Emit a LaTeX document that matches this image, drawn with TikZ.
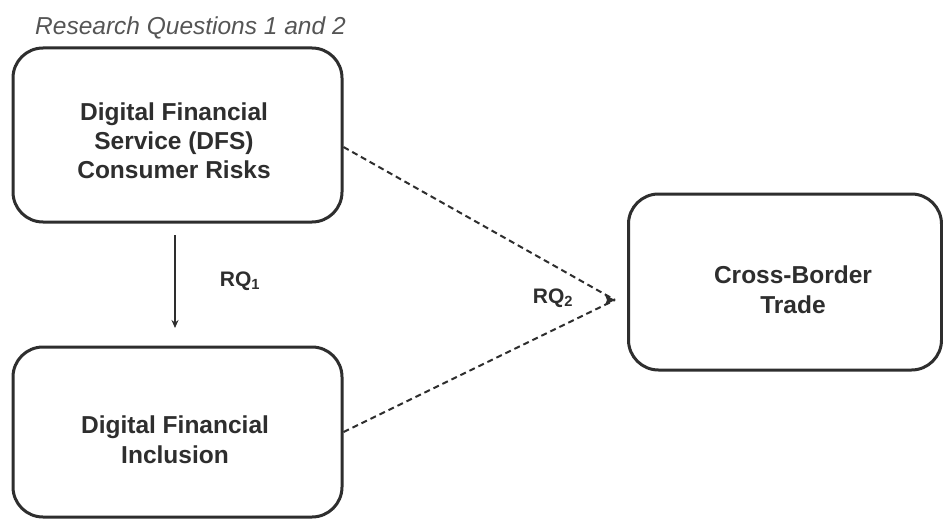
\documentclass[tikz,border=0pt]{standalone}
\usepackage{fontspec}
\setmainfont{Liberation Sans}
\usetikzlibrary{arrows.meta}
\definecolor{ink}{HTML}{2E2E2E}
\definecolor{titlegray}{HTML}{555555}
\begin{document}
\begin{tikzpicture}[x=1pt,y=-1pt,
  box/.style={draw=ink,line width=3pt,rounded corners=30pt,align=center,text=ink,
    font=\bfseries\fontsize{24.5}{29}\selectfont,inner sep=0pt},
  lbl/.style={text=ink,font=\bfseries\fontsize{21}{24}\selectfont,inner sep=0pt},
  dashline/.style={draw=ink,line width=2pt,dash pattern=on 6pt off 4pt},
  solidarrow/.style={draw=ink,line width=2pt,-{Stealth[length=8pt,width=7pt]}}
]
\useasboundingbox (0,0) rectangle (943,519);
\fill[white] (0,0) rectangle (943,519);
\node[anchor=west,text=titlegray,font=\itshape\fontsize{24.5}{28}\selectfont,inner sep=0pt] (title) at (35,28) {Research Questions 1 and 2};
\node[box,minimum width=329pt,minimum height=174pt] (dfs) at (177.5,135) {};
\node[text=ink,font=\bfseries\fontsize{24.5}{29}\selectfont,align=center,inner sep=0pt] (dfst) at (174,141) {Digital Financial\\Service (DFS)\\Consumer Risks};
\node[box,minimum width=329pt,minimum height=170pt] (dfi) at (177.5,432) {};
\node[text=ink,font=\bfseries\fontsize{24.5}{30}\selectfont,align=center,inner sep=0pt] (dfit) at (175,440) {Digital Financial\\Inclusion};
\node[box,minimum width=313pt,minimum height=176pt] (cbt) at (785,282) {};
\node[text=ink,font=\bfseries\fontsize{24.5}{30}\selectfont,align=center,inner sep=0pt] (cbtt) at (793,290) {Cross-Border\\Trade};
\coordinate (a1) at (175,235);
\coordinate (a2) at (175,328);
\draw[solidarrow] (a1) -- (a2);
\node[lbl] (rq1) at (240,281) {RQ\textsubscript{1}};
\coordinate (meet) at (615,300);
\draw[dashline] ([yshift=-12pt]dfs.east) -- (meet);
\draw[dashline] (dfi.east) -- (meet);
\fill[ink] (meet) -- ++(-10,-5) -- ++(2,5) -- ++(-2,5) -- cycle;
\node[lbl] (rq2) at (553,298) {RQ\textsubscript{2}};
\end{tikzpicture}
\end{document}
